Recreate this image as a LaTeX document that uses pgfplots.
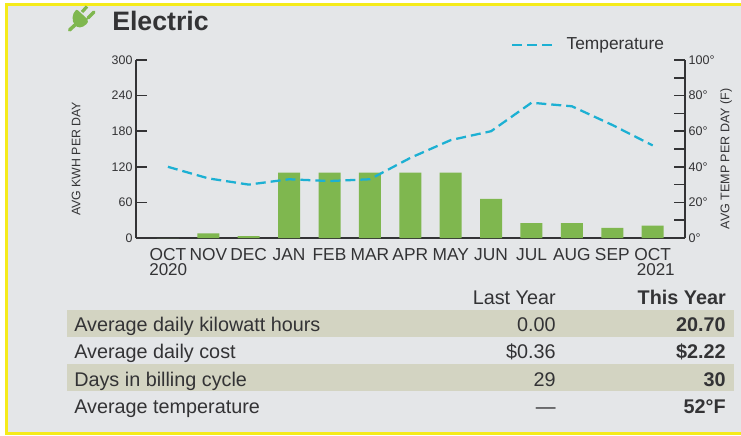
\documentclass[border=0pt]{standalone}
\usepackage{pgfplots}
\pgfplotsset{compat=1.18}
\usepackage{fontspec}
\setmainfont{Liberation Sans}
\definecolor{bgc}{HTML}{E4E6E8}
\definecolor{yel}{HTML}{F5EB1A}
\definecolor{grn}{HTML}{7FB74F}
\definecolor{teal}{HTML}{1CB0D3}
\definecolor{band}{HTML}{D3D4C2}
\definecolor{ink}{HTML}{333335}
\pgfplotstableread{
x kwh
0 0
1 8
2 3
3 110
4 110
5 110
6 110
7 110
8 66
9 25
10 25
11 17
12 21
}\bars
\pgfplotstableread{
x temp
0 40
1 33.5
2 30
3 33
4 32
5 33
6 45
7 55
8 60
9 76
10 74
11 63.5
12 52
}\temps
\begin{document}
\begin{tikzpicture}[x=0.75pt,y=-0.75pt]
\path[use as bounding box] (0,0) rectangle (741,435);
\fill[white] (0,0) rectangle (741,435);
\fill[yel] (5,3) rectangle (741,435);
\fill[bgc] (8,6) rectangle (741,432);
% table bands
\fill[band] (67,310) rectangle (734,337);
\fill[band] (67,364) rectangle (734,391);
% plug icon
\fill[grn,rounded corners=1.5pt] (76.5,9) -- (89,20.5) -- (85,26) -- (78,28) -- (73,23) -- (72.5,15) -- cycle;
\draw[grn,line width=2.6pt,line cap=round] (75,25) -- (69.5,30);
\draw[grn,line width=2.4pt] (82,12) -- (87,6.5);
\draw[grn,line width=2.4pt,line cap=round] (88,18) -- (94,12);
% title
\node[anchor=base west,font=\bfseries\fontsize{20}{24}\selectfont,text=ink,inner sep=0] at (112,31) {Electric};
\begin{axis}[
  at={(102pt,-178.5pt)},anchor=south west,
  scale only axis,width=411.75pt,height=133.5pt,
  xmin=-0.79,xmax=12.8,ymin=0,ymax=300,
  axis y line*=left,axis x line*=bottom,
  axis line style={ink,line width=1.25pt,-},
  major tick style={ink,line width=1.25pt},
  major tick length=8.25pt,tick align=inside,
  ytick={0,60,120,180,240,300},
  xtick={0,...,12},
  x tick style={draw=none},
  xticklabels={OCT,NOV,DEC,JAN,FEB,MAR,APR,MAY,JUN,JUL,AUG,SEP,OCT},
  xticklabel style={font=\fontsize{13}{15}\selectfont,text=ink,inner sep=0,yshift=-7.5pt},
  yticklabel style={font=\fontsize{9.3}{11}\selectfont,text=ink,inner sep=2.5pt},
  /pgf/number format/assume math mode=true,
  ylabel={AVG KWH PER DAY},
  ylabel style={at={(axis description cs:-0.109,0.444)},anchor=center,font=\fontsize{9.25}{11}\selectfont,text=ink},
  clip=false,
]
\addplot[ybar,bar width=16.5pt,fill=grn,draw=none,bar shift=0pt] table[x=x,y=kwh]{\bars};
\end{axis}
\begin{axis}[
  at={(102pt,-178.5pt)},anchor=south west,
  scale only axis,width=411.75pt,height=133.5pt,
  xmin=-0.79,xmax=12.8,ymin=0,ymax=100,
  axis y line*=right,axis x line=none,
  axis line style={ink,line width=1.25pt,-},
  major tick style={ink,line width=1.25pt},
  major tick length=8.25pt,tick align=inside,
  ytick={0,10,...,100},
  yticklabels={0°,,20°,,40°,,60°,,80°,,100°},
  yticklabel style={font=\fontsize{9.4}{11}\selectfont,text=ink,inner sep=2.5pt},
  ylabel={AVG TEMP PER DAY (F)},
  ylabel style={at={(axis description cs:1.0747,0.444)},anchor=center,font=\fontsize{9.4}{11}\selectfont,text=ink},
  clip=false,
  legend style={at={(0.6827,1.085)},anchor=west,draw=none,fill=none,
    font=\fontsize{13}{15}\selectfont,text=ink,inner sep=0pt},
  legend image code/.code={\draw[teal,line width=1.7pt,dash pattern=on 7.5pt off 3.75pt] (0,0) -- (30pt,0);},
]
\addplot[teal,line width=1.7pt,dash pattern=on 7.5pt off 3.75pt] table[x=x,y=temp]{\temps};
\addlegendentry{\hspace{8pt}Temperature}
\end{axis}
% year labels
\node[anchor=base west,font=\fontsize{12.8}{14}\selectfont,text=ink,inner sep=0] at (149,275) {2020};
\node[anchor=base east,font=\fontsize{12.8}{14}\selectfont,text=ink,inner sep=0] at (675,275) {2021};
% table
\def\ts{\fontsize{14.85}{17}\selectfont}
\node[anchor=base east,font=\ts,text=ink,inner sep=0] at (556,304) {Last Year};
\node[anchor=base east,font=\ts\bfseries,text=ink,inner sep=0] at (726,304) {This Year};
\node[anchor=base west,font=\ts,text=ink,inner sep=0] at (74,331) {Average daily kilowatt hours};
\node[anchor=base east,font=\ts,text=ink,inner sep=0] at (556,331) {0.00};
\node[anchor=base east,font=\ts\bfseries,text=ink,inner sep=0] at (726,331) {20.70};
\node[anchor=base west,font=\ts,text=ink,inner sep=0] at (74,358) {Average daily cost};
\node[anchor=base east,font=\ts,text=ink,inner sep=0] at (556,358) {\$0.36};
\node[anchor=base east,font=\ts\bfseries,text=ink,inner sep=0] at (726,358) {\$2.22};
\node[anchor=base west,font=\ts,text=ink,inner sep=0] at (74,386) {Days in billing cycle};
\node[anchor=base east,font=\ts,text=ink,inner sep=0] at (556,386) {29};
\node[anchor=base east,font=\ts\bfseries,text=ink,inner sep=0] at (726,386) {30};
\node[anchor=base west,font=\ts,text=ink,inner sep=0] at (74,413) {Average temperature};
\node[anchor=base east,font=\ts,text=ink,inner sep=0] at (556,413) {—};
\node[anchor=base east,font=\ts\bfseries,text=ink,inner sep=0] at (726,413) {52°F};
\end{tikzpicture}
\end{document}
